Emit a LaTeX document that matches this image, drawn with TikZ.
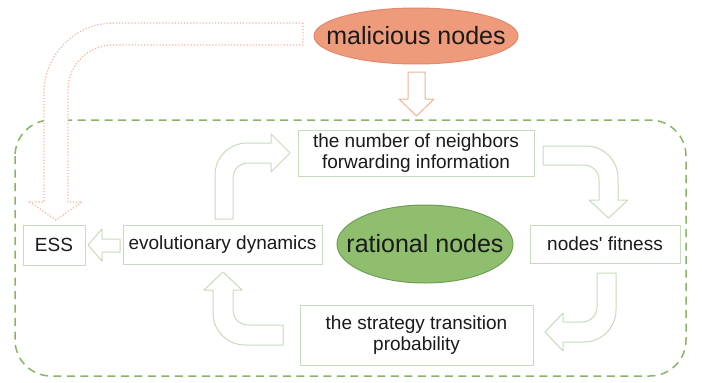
\documentclass[tikz,border=0pt]{standalone}
\usepackage{fontspec}
\setmainfont{Liberation Sans}
\definecolor{boxgreen}{HTML}{C6DBBC}
\definecolor{dashgreen}{HTML}{88B468}
\definecolor{ratfill}{HTML}{8FBF6E}
\definecolor{ratline}{HTML}{6F9E55}
\definecolor{malfill}{HTML}{EE9B7C}
\definecolor{malline}{HTML}{E4876A}
\definecolor{dotpink}{HTML}{F2B7A2}
\definecolor{downorange}{HTML}{EFB394}
\definecolor{inkgray}{HTML}{1A1A1A}
\tikzset{
  textbox/.style={draw=boxgreen, line width=0.9pt, fill=white, inner sep=0pt, text=inkgray,
    font=\fontsize{19}{21}\selectfont, align=center},
  ovaltext/.style={inner sep=0pt, text=inkgray, font=\fontsize{25}{28}\selectfont},
  hollow/.style={draw=boxgreen, line width=1pt, fill=white, line join=round},
}
\begin{document}
\begin{tikzpicture}[x=1pt, y=-1pt]
\useasboundingbox (0,0) rectangle (702,383);
\draw[dashgreen, line width=1.5pt, dash pattern=on 8pt off 5.5pt, rounded corners=36pt]
  (15,120) rectangle (686,376);
\draw[dotpink, line width=1.3pt, dash pattern=on 1.2pt off 1.9pt, fill=white]
  (303,23) -- (114,23) arc[start angle=270, end angle=180, radius=70] -- (44,202) -- (30,202)
  -- (56,220) -- (82,202) -- (68,202) -- (68,90) arc[start angle=180, end angle=270, radius=45]
  -- (303,45) -- cycle;
\draw[malline, line width=1pt, fill=malfill] (416,36) ellipse [x radius=102, y radius=28];
\node[ovaltext] (malicious) at (416,36) {malicious nodes};
\draw[downorange, line width=1pt, fill=white, line join=round]
  (408,72) -- (425,72) -- (425,99) -- (434,99) -- (416.5,116) -- (399,99) -- (408,99) -- cycle;
\node[textbox, minimum width=236pt, minimum height=46pt] (neighbors) at (416,153) {the number of neighbors\\forwarding information};
\node[textbox, minimum width=62pt, minimum height=40pt] (ess) at (54,245) {ESS};
\node[textbox, minimum width=199pt, minimum height=39pt] (dynamics) at (222.5,244.5) {evolutionary dynamics};
\draw[ratline, line width=1pt, fill=ratfill] (425,244) ellipse [x radius=88, y radius=39];
\node[ovaltext] (rational) at (425,244) {rational nodes};
\node[textbox, minimum width=150pt, minimum height=38pt] (fitness) at (605,244) {nodes\textquotesingle\ fitness};
\node[textbox, minimum width=233pt, minimum height=60pt] (transition) at (416.5,335) {the strategy transition\\probability};
\draw[hollow] (215,219) -- (215,175) arc[start angle=180, end angle=270, radius=32] -- (271,143)
  -- (271,134) -- (290,153) -- (271,172) -- (271,163) -- (248,163)
  arc[start angle=270, end angle=180, radius=15] -- (233,219) -- cycle;
\draw[hollow] (543,146) -- (586,146) arc[start angle=270, end angle=360, radius=32] -- (618,200)
  -- (628,200) -- (608.5,218) -- (589,200) -- (599,200) -- (599,180)
  arc[start angle=0, end angle=-90, radius=15] -- (543,165) -- cycle;
\draw[hollow] (597,273) -- (616,273) -- (616,310) arc[start angle=0, end angle=90, radius=32]
  -- (563,342) -- (563,351) -- (545,332) -- (563,313) -- (563,322) -- (582,322)
  arc[start angle=90, end angle=0, radius=15] -- cycle;
\draw[hollow] (283,325) -- (248,325) arc[start angle=90, end angle=180, radius=15] -- (233,290)
  -- (242,290) -- (223,272) -- (204,290) -- (213,290) -- (213,313)
  arc[start angle=180, end angle=90, radius=32] -- (283,345) -- cycle;
\draw[hollow] (120,239) -- (102,239) -- (102,229) -- (88,245) -- (102,261) -- (102,252) -- (120,252) -- cycle;
\end{tikzpicture}
\end{document}
